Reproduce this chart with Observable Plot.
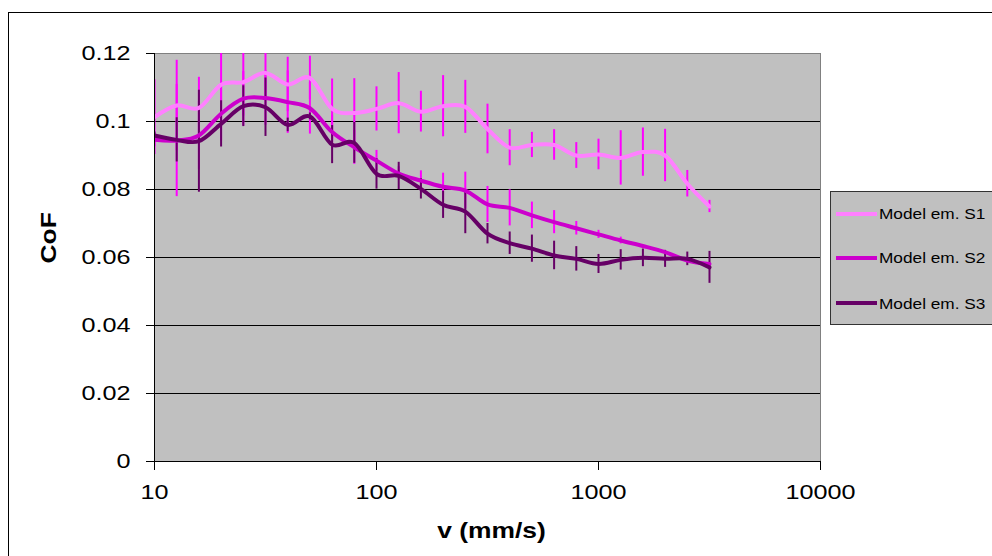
<!DOCTYPE html>
<html><head><meta charset="utf-8">
<script src="https://cdn.jsdelivr.net/npm/d3@7"></script>
<script src="https://cdn.jsdelivr.net/npm/@observablehq/plot@0.6"></script>
<style>
html,body{margin:0;padding:0;background:#fff;}
#wrap{position:relative;width:992px;height:556px;overflow:hidden;font-family:"Liberation Sans",Arial,sans-serif;}
#border{position:absolute;left:8px;top:12px;width:1100px;height:700px;border:1px solid #000;pointer-events:none;}
#legend{position:absolute;left:830px;top:191px;width:200px;height:134px;background:#c0c0c0;border:1px solid #333;box-sizing:border-box;}
.item{position:absolute;left:5px;height:20px;display:flex;align-items:center;}
.swatch{width:41px;height:4px;}
.lab{font-size:15px;color:#000;display:inline-block;transform:scaleX(1.15);transform-origin:left center;margin-left:2px;white-space:nowrap;}
</style></head><body>
<div id="wrap"><div id="chart"></div><div id="legend"></div><div id="border"></div></div>
<script>
// sliding velocity (mm/s)
const velocity = [10, 12.59, 15.85, 19.95, 25.12, 31.62, 39.81, 50.12, 63.1, 79.43, 100, 125.9, 158.5, 199.5, 251.2, 316.2, 398.1, 501.2, 631, 794.3, 1000, 1259, 1585, 1995, 2512, 3162];
const seriesNames = ["Model em. S1", "Model em. S2", "Model em. S3"];
const s1 = [0.1013, 0.1047, 0.104, 0.1108, 0.1116, 0.1143, 0.1109, 0.1128, 0.1037, 0.1025, 0.1037, 0.1054, 0.1029, 0.1045, 0.1043, 0.0978, 0.0923, 0.0931, 0.0931, 0.0900, 0.0903, 0.0893, 0.0910, 0.0900, 0.0817, 0.0750];
const s1Err = [0.011, 0.0133, 0.009, 0.011, 0.010, 0.008, 0.008, 0.0064, 0.0088, 0.0101, 0.0065, 0.009, 0.006, 0.009, 0.0078, 0.0073, 0.0053, 0.0037, 0.0045, 0.0038, 0.0045, 0.008, 0.0071, 0.0077, 0.0039, 0.0018];
const s2 = [0.0946, 0.0944, 0.0959, 0.1023, 0.1067, 0.1069, 0.1057, 0.1039, 0.0969, 0.0924, 0.0885, 0.0847, 0.0826, 0.0808, 0.0797, 0.0756, 0.0746, 0.0724, 0.0704, 0.0686, 0.0668, 0.065, 0.0634, 0.0616, 0.0591, 0.0581];
const s2Err = [0.002, 0.0165, 0.01, 0.008, 0.008, 0.008, 0.0092, 0.0076, 0.005, 0.005, 0.003, 0.002, 0.0029, 0.004, 0.0054, 0.0053, 0.0053, 0.0039, 0.0034, 0.002, 0.0012, 0.001, 0, 0, 0, 0];
const s3 = [0.0959, 0.0946, 0.0942, 0.0993, 0.1045, 0.1042, 0.099, 0.1015, 0.0932, 0.0937, 0.0846, 0.084, 0.0802, 0.0755, 0.0735, 0.067, 0.0642, 0.0626, 0.0606, 0.0596, 0.0581, 0.0593, 0.0599, 0.0596, 0.0596, 0.0571];
const s3Err = [0.001, 0.0065, 0.015, 0.0068, 0.006, 0.0086, 0.002, 0.001, 0.0056, 0.006, 0.0045, 0.004, 0.003, 0.004, 0.0065, 0.003, 0.0033, 0.004, 0.0042, 0.0036, 0.0028, 0.003, 0.0026, 0.0025, 0.002, 0.0047];
const xTicks = [10, 100, 1000, 10000];
const yTicks = [0, 0.02, 0.04, 0.06, 0.08, 0.1, 0.12];
const gridValues = [0.02, 0.04, 0.06, 0.08, 0.1];
const lineColors = ["#ff80ff", "#cc00cc", "#660066"];
const barColors = ["#ff00ff", "#ff00ff", "#660066"];

const seriesVals = [s1, s2, s3];
const seriesErr = [s1Err, s2Err, s3Err];
const tables = seriesVals.map((vals, k) => velocity.map((v, i) => ({v, y: vals[i], e: seriesErr[k][i]})));

const plot = Plot.plot({
  width: 992, height: 556,
  marginLeft: 154, marginRight: 172, marginTop: 53, marginBottom: 95,
  style: {fontFamily: "'Liberation Sans', Arial, sans-serif", color: "#000", background: "transparent", overflow: "visible"},
  x: {type: "log", domain: [10, 10000]},
  y: {domain: [0, 0.12]},
  marks: [
    Plot.frame({fill: "#c0c0c0", stroke: "#808080"}),
    Plot.ruleY(gridValues, {stroke: "#000", strokeWidth: 1}),
    ...tables.map((t, k) => Plot.ruleX(t.filter(d => d.e > 0), {x: "v", y1: d => d.y - d.e, y2: d => d.y + d.e, stroke: barColors[k], strokeWidth: 2, clip: true})),
    ...tables.map((t, k) => Plot.line(t, {x: "v", y: "y", stroke: lineColors[k], strokeWidth: 4, curve: "cardinal", clip: true})),
    Plot.ruleX([10], {stroke: "#000"}),
    Plot.ruleY([0], {stroke: "#000"}),
    Plot.axisY({ticks: yTicks, tickSize: 8, tickPadding: 16, fontSize: 21, tickFormat: d => String(+d.toFixed(2)), label: null, stroke: "#000"}),
    Plot.axisX({ticks: xTicks, tickSize: 9, tickPadding: 14, fontSize: 21, tickFormat: d => String(d), label: null, stroke: "#000"}),
    Plot.text(["CoF"], {text: d => d, frameAnchor: "left", dx: -106, dy: 6, rotate: -90, fontSize: 22, fontWeight: "bold", fill: "#000"}),
    Plot.text(["v (mm/s)"], {text: d => d, frameAnchor: "bottom", dx: 4, dy: 69, fontSize: 22, fontWeight: "bold", fill: "#000", lineAnchor: "middle"})
  ]
});
document.getElementById("chart").appendChild(plot);
// widen glyphs like the original (stretched text), scaling about each text's anchor point
plot.querySelectorAll("text").forEach(t => {
  const bb = t.getBBox();
  const anchor = getComputedStyle(t).textAnchor;
  const ax = anchor === "end" ? bb.x + bb.width : anchor === "middle" ? bb.x + bb.width / 2 : bb.x;
  const tr = t.getAttribute("transform") || "";
  t.setAttribute("transform", `${tr} translate(${ax},0) scale(1.2,1) translate(${-ax},0)`);
});

const legend = document.getElementById("legend");
const itemTops = [11.7, 55.7, 101];
seriesNames.forEach((name, k) => {
  const it = document.createElement("div");
  it.className = "item";
  it.style.top = itemTops[k] + "px";
  const sw = document.createElement("div");
  sw.className = "swatch"; sw.style.background = lineColors[k];
  const lb = document.createElement("span");
  lb.className = "lab"; lb.textContent = name;
  it.appendChild(sw); it.appendChild(lb);
  legend.appendChild(it);
});
</script>
</body></html>
